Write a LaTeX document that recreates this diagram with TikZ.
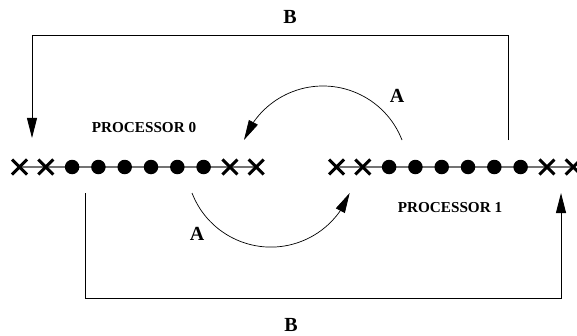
\documentclass[tikz,border=0pt]{standalone}
\usepackage{fontspec}
\setmainfont{Liberation Serif}
\usetikzlibrary{arrows.meta,shapes.misc,backgrounds,bending}
\begin{document}
\begin{tikzpicture}[x=1pt,y=1pt,
  site/.style={circle,fill=black,inner sep=0pt,minimum size=14.5pt},
  halo/.style={cross out,draw=black,line width=3pt,inner sep=0pt,minimum size=12pt},
  chainline/.style={draw=black!55,line width=1.4pt},
  route/.style={draw=black,line width=0.9pt,-{Triangle[length=20pt,width=10pt]}},
  swap/.style={draw=black,line width=0.7pt,-{Triangle[length=20pt,width=10pt,flex]}},
  tag/.style={font=\bfseries\fontsize{20}{20}\selectfont,inner sep=0pt},
  proc/.style={font=\bfseries\fontsize{15.2}{15.2}\selectfont,inner sep=0pt}]
\useasboundingbox (0,0) rectangle (577,335);

% processor 0: two ghost cells, six owned cells, two ghost cells
\foreach \i in {1,...,10}{
  \pgfmathsetmacro{\xx}{19.5+26.3*(\i-1)}
  \ifnum\i<3 \node[halo] (l\i) at (\xx,168) {};
  \else\ifnum\i>8 \node[halo] (l\i) at (\xx,168) {};
  \else \node[site] (l\i) at (\xx,168) {};\fi\fi
}
% processor 1
\foreach \i in {1,...,10}{
  \pgfmathsetmacro{\xx}{336.5+26.3*(\i-1)}
  \ifnum\i<3 \node[halo] (r\i) at (\xx,168) {};
  \else\ifnum\i>8 \node[halo] (r\i) at (\xx,168) {};
  \else \node[site] (r\i) at (\xx,168) {};\fi\fi
}
\begin{pgfonlayer}{background}
  \draw[chainline] (l1.center) -- (l10.center);
  \draw[chainline] (r1.center) -- (r10.center);
\end{pgfonlayer}

% labels
\node[proc] (p0) at (144,207) {PROCESSOR 0};
\node[proc] (p1) at (450,127) {PROCESSOR 1};
\node[tag] (bt) at (290,318) {B};
\node[tag] (bb) at (291,10) {B};
\node[tag] (at) at (397,239) {A};
\node[tag] (ab) at (197,101) {A};

% exchange A: neighbouring halo updates
\coordinate (a0) at (402,195);
\coordinate (a1) at (192,142);
\draw[swap] (a0) arc[start angle=21.3,end angle=158.7,radius=84.8];
\draw[swap] (a1) arc[start angle=201.1,end angle=338.9,radius=84.5];

% exchange B: periodic wrap-around
\coordinate (b0) at (508,195);
\coordinate (b0t) at (508,300);
\coordinate (b0l) at (32,300);
\coordinate (b0e) at (32,197);
\draw[route] (b0) -- (b0t) -- (b0l) -- (b0e);
\coordinate (b1) at (85,142);
\coordinate (b1b) at (85,37);
\coordinate (b1r) at (561,37);
\coordinate (b1e) at (561,142);
\draw[route] (b1) -- (b1b) -- (b1r) -- (b1e);
\end{tikzpicture}
\end{document}
